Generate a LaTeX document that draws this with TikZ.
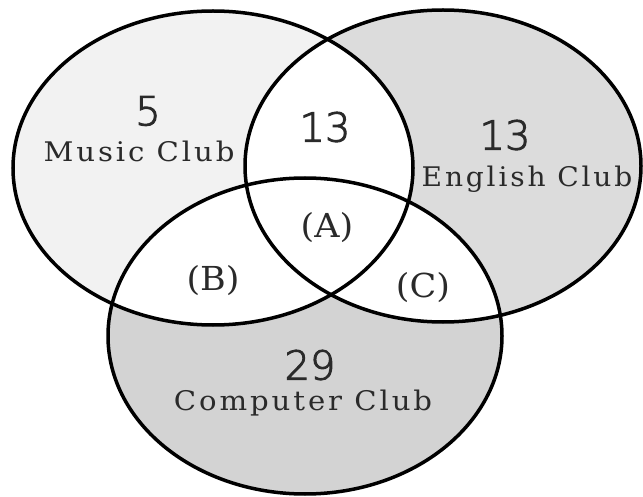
\documentclass[tikz,border=0pt]{standalone}
\usepackage{fontspec}
\newfontfamily\labelfont{DejaVu Serif}[LetterSpace=10]
\newfontfamily\letterfont{DejaVu Serif}
\newfontfamily\numfont{DejaVu Sans ExtraLight}[FakeBold=2.5]
\newcommand{\widen}[2][1.08]{\scalebox{#1}[1]{#2}}
\definecolor{musicfill}{HTML}{F2F2F2}
\definecolor{englishfill}{HTML}{DCDCDC}
\definecolor{compfill}{HTML}{D3D3D3}
\definecolor{txt}{HTML}{2A2A2A}
\begin{document}
\begin{tikzpicture}[x=1pt,y=-1pt,
  outline/.style={draw=black,line width=3.5pt},
  clubname/.style={text=txt,inner sep=0pt,font=\labelfont\fontsize{27}{29}\selectfont},
  count/.style={text=txt,inner sep=0pt,font=\numfont\fontsize{40}{44}\selectfont},
  region/.style={text=txt,inner sep=0pt,font=\letterfont\fontsize{33}{36}\selectfont}]
\useasboundingbox (0,0) rectangle (643,497);
\def\musicE{(213,168) ellipse [x radius=200,y radius=157]}
\def\englishE{(443,166) ellipse [x radius=198,y radius=156]}
\def\compE{(305,336) ellipse [x radius=197,y radius=158]}
\fill[musicfill] \musicE;
\fill[englishfill] \englishE;
\fill[compfill] \compE;
\begin{scope}
  \clip \musicE;
  \fill[white] \englishE;
  \fill[white] \compE;
\end{scope}
\begin{scope}
  \clip \englishE;
  \fill[white] \compE;
\end{scope}
\draw[outline] \musicE;
\draw[outline] \englishE;
\draw[outline] \compE;
\node[count] (n5) at (148,111) {5};
\node[clubname] (music) at (139,151) {\widen{Music Club}};
\node[count] (n13a) at (325,127) {13};
\node[count] (n13b) at (505,135) {13};
\node[clubname] (english) at (527,179) {\widen[1.04]{English Club}};
\node[region] (A) at (327,228) {\widen[1.06]{(A)}};
\node[region] (B) at (213,281) {\widen[1.06]{(B)}};
\node[region] (C) at (423,288) {\widen[1.06]{(C)}};
\node[count] (n29) at (310,365) {29};
\node[clubname] (computer) at (303,403) {\widen{Computer Club}};
\end{tikzpicture}
\end{document}
